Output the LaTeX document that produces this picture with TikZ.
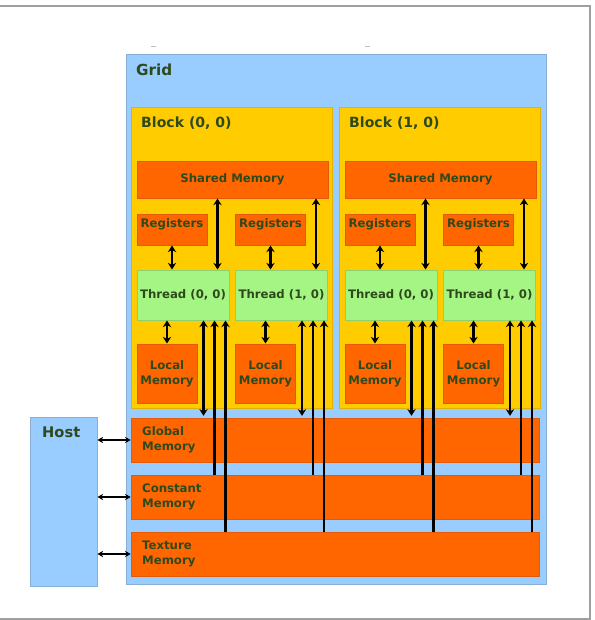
\documentclass[tikz,border=0pt]{standalone}
\usepackage{fontspec}
\setmainfont{DejaVu Sans}
\usetikzlibrary{arrows.meta,positioning,calc}
\definecolor{gridblue}{HTML}{99CCFF}
\definecolor{gridline}{HTML}{8AAFD6}
\definecolor{blockyel}{HTML}{FFCC00}
\definecolor{blockline}{HTML}{E3B100}
\definecolor{memorg}{HTML}{FF6600}
\definecolor{memline}{HTML}{E35B0A}
\definecolor{thrgreen}{HTML}{A4F584}
\definecolor{thrline}{HTML}{8CD070}
\definecolor{lbltext}{HTML}{2E4A1C}
\begin{document}
\begin{tikzpicture}[x=0.3mm,y=-0.3mm,
  lbl/.style={text=lbltext,font=\bfseries\fontsize{10}{13}\selectfont},
  big/.style={text=lbltext,inner sep=0pt,anchor=west,font=\bfseries\fontsize{#1}{#1}\selectfont},
  box/.style={draw,line width=0.3mm,inner sep=1pt,lbl},
  gridbox/.style={box,draw=gridline,fill=gridblue},
  blk/.style={box,draw=blockline,fill=blockyel,minimum width=60.3mm,minimum height=90.3mm},
  mem/.style={box,draw=memline,fill=memorg},
  reg/.style={mem,minimum width=21mm,inner ysep=0pt,text height=3.9mm,text depth=5.4mm},
  thr/.style={box,draw=thrline,fill=thrgreen,minimum width=27.6mm,minimum height=15mm},
  loc/.style={mem,minimum width=18mm,minimum height=17.7mm,align=center},
  wide/.style={mem,minimum height=13.2mm,text width=116mm,inner xsep=3.3mm,align=left},
  dbl/.style={{Stealth[length=2mm,width=2.5mm]}-{Stealth[length=2mm,width=2.5mm]},line width=0.85mm},
  uparr/.style={-{Stealth[length=2mm,width=2.5mm]},line width=0.85mm},
  hostarr/.style={{Stealth[length=1.7mm,width=1.9mm]}-{Stealth[length=1.7mm,width=1.9mm]},line width=0.5mm},
  framel/.style={draw=gray!75,line width=0.35mm}]
  \useasboundingbox (0,0) rectangle (594,620);
  \draw[framel] (0,6) -- (590,6) -- (590,619) -- (0,619);
  \draw[gray!50,line width=0.3mm] (151,46) -- (156,46) (365,46) -- (370,46);
  \node[gridbox,minimum width=126mm,minimum height=158.7mm] (grid) at (336,319.5) {};
  \node[big=13] (gridlbl) at (136,70) {Grid};
  \node[gridbox,minimum width=20.1mm,minimum height=50.7mm] (host) at (63.5,501.5) {};
  \node[big=12.5] (hostlbl) at (42,432) {Host};
  \node[wide] (glb) at (335.5,440) {Global\\Memory};
  \node[wide] (cst) at (335.5,497) {Constant\\Memory};
  \node[wide] (tex) at (335.5,554) {Texture\\Memory};
  \draw[hostarr] (host.east |- glb.west) -- (glb.west);
  \draw[hostarr] (host.east |- cst.west) -- (cst.west);
  \draw[hostarr] (host.east |- tex.west) -- (tex.west);
  \foreach \b/\dx in {0/0,1/208}{
    \node[blk] (blk\b) at (231.5+\dx,257.5) {};
    \node[big=12] (blklbl\b) at (141+\dx,123) {Block (\b, 0)};
    \node[mem,minimum width=57.3mm,minimum height=11.1mm] (shm\b) at (232.5+\dx,179.5) {Shared Memory};
    \foreach \t/\tx in {0/0,1/98.5}{
      \node[reg] (reg\b\t) at (172+\dx+\tx,229.5) {Registers};
      \node[thr] (thr\b\t) at (183+\dx+\tx,295) {Thread (\t, 0)};
      \node[loc] (loc\b\t) at (167+\dx+\tx,373.5) {Local\\Memory};
      \coordinate (s\b\t) at ($(thr\b\t.north east)+(-12,0)$);
      \coordinate (g\b\t) at ($(thr\b\t.south east)+(-26,0)$);
      \coordinate (c\b\t) at ($(thr\b\t.south east)+(-15,0)$);
      \coordinate (x\b\t) at ($(thr\b\t.south east)+(-4,0)$);
      \draw[dbl] (reg\b\t.south) -- (reg\b\t.south |- thr\b\t.north);
      \draw[dbl] (s\b\t |- shm\b.south) -- (s\b\t);
      \draw[dbl] (loc\b\t.north |- thr\b\t.south) -- (loc\b\t.north);
      \draw[dbl] (g\b\t) -- ([yshift=0.5mm]g\b\t |- glb.north);
      \draw[uparr] (c\b\t |- cst.north) -- (c\b\t);
      \draw[uparr] (x\b\t |- tex.north) -- (x\b\t);
    }
  }
\end{tikzpicture}
\end{document}
